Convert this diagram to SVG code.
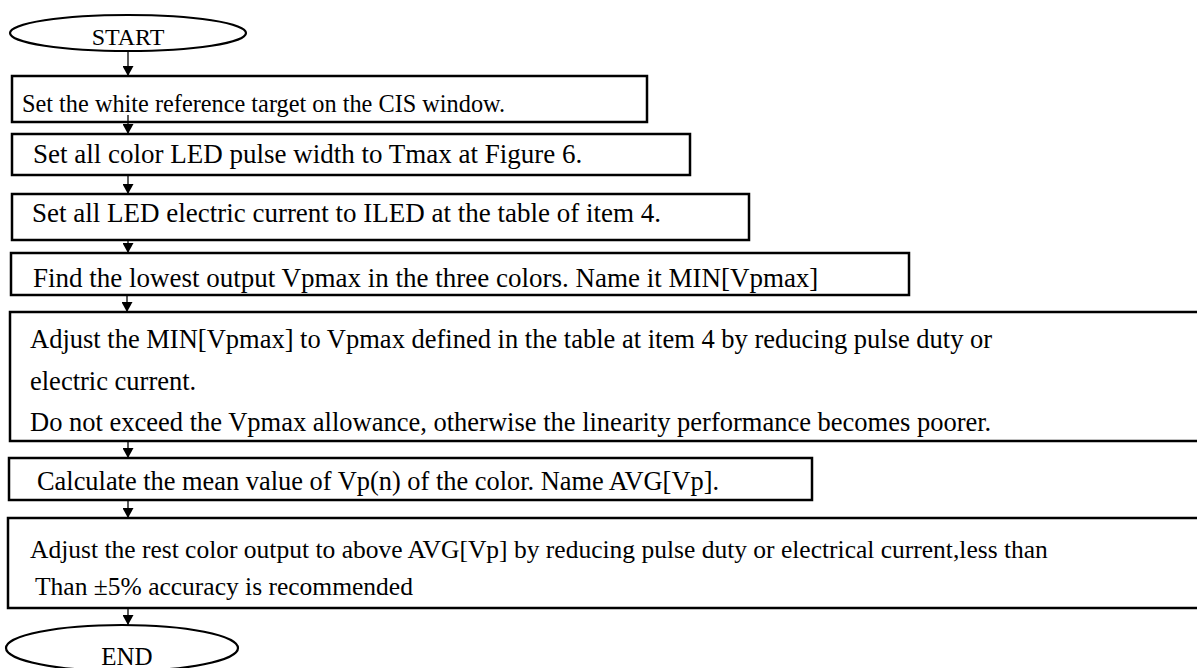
<svg xmlns="http://www.w3.org/2000/svg" width="1197" height="668" viewBox="0 0 1197 668">
<defs>
<style>
.box{fill:#fff;stroke:#000;stroke-width:2.5}
.term{fill:#fff;stroke:#000;stroke-width:2.2}
.t{font-family:"Liberation Serif","Times New Roman",serif;font-size:26px;fill:#000}
.conn{stroke:#000;stroke-width:1.3;fill:none}
</style>
<marker id="ah" viewBox="0 0 10 11" refX="10" refY="5.5" markerWidth="10" markerHeight="11" markerUnits="userSpaceOnUse" orient="auto">
<path d="M0,0 L10,5.5 L0,11 Z" fill="#000"/>
</marker>
</defs>
<rect width="1197" height="668" fill="#fff"/>
<g id="start">
<ellipse class="term" cx="128" cy="33" rx="118" ry="18"/>
<text class="t" x="128" y="45" text-anchor="middle" style="font-size:24px">START</text>
</g>
<g id="step1">
<rect class="box" x="12" y="76" width="635" height="46"/>
<text class="t" x="22" y="112" style="font-size:24.3px">Set the white reference target on the CIS window.</text>
</g>
<g id="step2">
<rect class="box" x="12" y="134" width="678" height="41"/>
<text class="t" x="33" y="163" style="font-size:27px">Set all color LED pulse width to Tmax at Figure 6.</text>
</g>
<g id="step3">
<rect class="box" x="12" y="194" width="737" height="46"/>
<text class="t" x="32" y="222" style="font-size:27px">Set all LED electric current to ILED at the table of item 4.</text>
</g>
<g id="step4">
<rect class="box" x="11" y="253" width="898" height="42"/>
<text class="t" x="33" y="287" style="font-size:27px">Find the lowest output Vpmax in the three colors. Name it MIN[Vpmax]</text>
</g>
<g id="step5">
<rect class="box" x="10" y="312" width="1200" height="129"/>
<text class="t" x="30" y="348" style="font-size:26.5px">Adjust the MIN[Vpmax] to Vpmax defined in the table at item 4 by reducing pulse duty or</text>
<text class="t" x="30" y="390" style="font-size:26.5px">electric current.</text>
<text class="t" x="30" y="431" style="font-size:26.5px">Do not exceed the Vpmax allowance, otherwise the linearity performance becomes poorer.</text>
</g>
<g id="step6">
<rect class="box" x="9" y="458" width="803" height="42"/>
<text class="t" x="37" y="490" style="font-size:26.4px">Calculate the mean value of Vp(n) of the color. Name AVG[Vp].</text>
</g>
<g id="step7">
<rect class="box" x="8" y="518" width="1202" height="90"/>
<text class="t" x="30" y="558" style="font-size:25.5px">Adjust the rest color output to above AVG[Vp] by reducing pulse duty or electrical current,less than</text>
<text class="t" x="35" y="595" style="font-size:25.5px">Than ±5% accuracy is recommended</text>
</g>
<g id="end">
<ellipse class="term" cx="122" cy="648" rx="116" ry="23"/>
<text class="t" x="127" y="665" text-anchor="middle" style="font-size:25px">END</text>
</g>
<g id="connectors">
<line class="conn" x1="128" y1="51" x2="128" y2="76" marker-end="url(#ah)"/>
<line class="conn" x1="128" y1="115" x2="128" y2="134" marker-end="url(#ah)"/>
<line class="conn" x1="128" y1="175" x2="128" y2="194" marker-end="url(#ah)"/>
<line class="conn" x1="128" y1="240" x2="128" y2="253" marker-end="url(#ah)"/>
<line class="conn" x1="127" y1="295" x2="127" y2="312" marker-end="url(#ah)"/>
<line class="conn" x1="128" y1="441" x2="128" y2="458" marker-end="url(#ah)"/>
<line class="conn" x1="128" y1="500" x2="128" y2="518" marker-end="url(#ah)"/>
<line class="conn" x1="128" y1="608" x2="128" y2="625" marker-end="url(#ah)"/>
</g>
</svg>
